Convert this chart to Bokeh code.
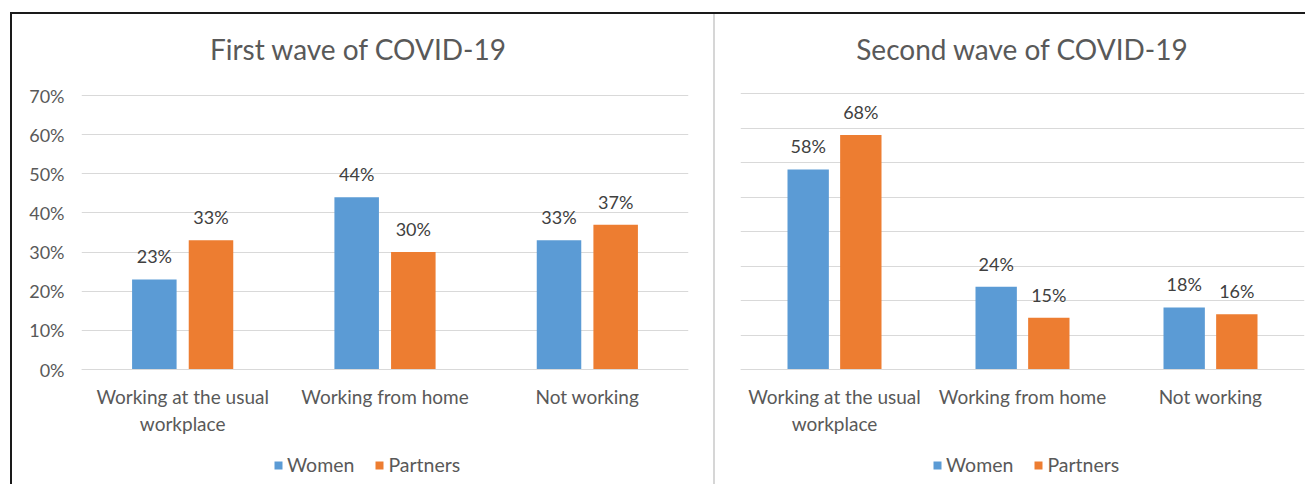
from bokeh.plotting import figure
from bokeh.layouts import row
from bokeh.models import (ColumnDataSource, FactorRange, Range1d, FixedTicker,
                          NumeralTickFormatter, Legend, LegendItem, Label)
from bokeh.transform import dodge
from bokeh.core.properties import value
from bokeh.embed import file_html
from bokeh.resources import INLINE

categories = ["Working at the usual\nworkplace", "Working from home", "Not working"]
first_women = [0.23, 0.44, 0.33]
first_partners = [0.33, 0.30, 0.37]
second_women = [0.58, 0.24, 0.18]
second_partners = [0.68, 0.15, 0.16]
first_ticks = [0.0, 0.1, 0.2, 0.3, 0.4, 0.5, 0.6, 0.7]
second_ticks = [0.0, 0.1, 0.2, 0.3, 0.4, 0.5, 0.6, 0.7, 0.8]
titles = ["First wave of COVID-19", "Second wave of COVID-19"]
series_names = ["Women", "Partners"]

BLUE = "#5b9bd5"
ORANGE = "#ed7d31"
TXT = "#595959"
GRID = "#d9d9d9"
FONT = "Lato"
H = 470


def make_chart(women, partners, ticks, title, width, mb_left, mb_right, top_px, title_x, show_y):
    src = ColumnDataSource(dict(
        cat=categories,
        women=women,
        partners=partners,
        wl=[f"{round(v * 100)}%" for v in women],
        pl=[f"{round(v * 100)}%" for v in partners],
    ))
    # zero line 355 px below canvas top, top gridline top_px below canvas top;
    # the range extends above and below so title, category labels and legend
    # sit inside the frame
    zero_px = 355
    px_per_unit = (zero_px - top_px) / ticks[-1]
    y_start = -(H - zero_px) / px_per_unit
    y_end = zero_px / px_per_unit
    p = figure(x_range=FactorRange(factors=categories),
               y_range=Range1d(y_start, y_end),
               width=width, height=H, output_backend="svg", toolbar_location=None,
               min_border_left=mb_left, min_border_right=mb_right,
               min_border_top=0, min_border_bottom=0)
    p.outline_line_color = None
    p.background_fill_color = "white"
    p.border_fill_color = "white"

    p.add_layout(Label(x=title_x, y=H - 34, x_units="screen", y_units="screen", text=title,
                       text_font=FONT, text_font_size="28px", text_color=TXT,
                       text_align="center", text_baseline="middle"))

    rw = p.vbar(x=dodge("cat", -0.14, range=p.x_range), top="women", width=0.22,
                source=src, fill_color=BLUE, line_color=None)
    rp = p.vbar(x=dodge("cat", 0.14, range=p.x_range), top="partners", width=0.22,
                source=src, fill_color=ORANGE, line_color=None)
    p.text(x=dodge("cat", -0.14, range=p.x_range), y="women", text="wl", source=src,
           text_align="center", text_baseline="middle", y_offset=-23,
           text_font=value(FONT), text_font_size="18px", text_color="#404040")
    p.text(x=dodge("cat", 0.14, range=p.x_range), y="partners", text="pl", source=src,
           text_align="center", text_baseline="middle", y_offset=-23,
           text_font=value(FONT), text_font_size="18px", text_color="#404040")

    p.xgrid.grid_line_color = None
    p.ygrid.ticker = FixedTicker(ticks=ticks)
    p.ygrid.grid_line_color = GRID
    p.ygrid.grid_line_width = 1

    p.yaxis.ticker = FixedTicker(ticks=ticks)
    p.yaxis.formatter = NumeralTickFormatter(format="0%")
    p.yaxis.axis_line_color = None
    p.yaxis.major_tick_line_color = None
    p.yaxis.minor_tick_line_color = None
    p.yaxis.major_tick_out = 0
    p.yaxis.major_label_text_font = FONT
    p.yaxis.major_label_text_font_size = "18px"
    p.yaxis.major_label_text_color = TXT
    p.yaxis.major_label_standoff = 17
    p.yaxis.visible = show_y

    p.xaxis.fixed_location = 0
    p.xaxis.axis_line_color = GRID
    p.xaxis.major_tick_line_color = None
    p.xaxis.major_tick_out = 0
    p.xaxis.major_label_text_font = FONT
    p.xaxis.major_label_text_font_size = "19px"
    p.xaxis.major_label_text_color = TXT
    p.xaxis.major_label_standoff = 15

    leg = Legend(items=[LegendItem(label=series_names[0], renderers=[rw]),
                        LegendItem(label=series_names[1], renderers=[rp])],
                 orientation="horizontal", location=(192, 8),
                 glyph_width=10, glyph_height=10, label_standoff=4, spacing=20,
                 padding=0, margin=0, border_line_color=None, background_fill_alpha=0,
                 label_text_font=FONT, label_text_font_size="19.5px", label_text_color=TXT)
    p.add_layout(leg, "center")
    return p


p1 = make_chart(first_women, first_partners, first_ticks, titles[0], 701, 69, 25, 81, 277, True)
p2 = make_chart(second_women, second_partners, second_ticks, titles[1], 592, 25, 3, 79, 282, False)
p2.styles = {"border-left": "2px solid #d6d6d6"}

layout = row(p1, p2, styles={"border-top": "2px solid #1a1a1a", "border-left": "2px solid #1a1a1a",
                             "margin-left": "10px", "margin-top": "12px"})

open("out.html", "w").write(file_html(layout, INLINE))
